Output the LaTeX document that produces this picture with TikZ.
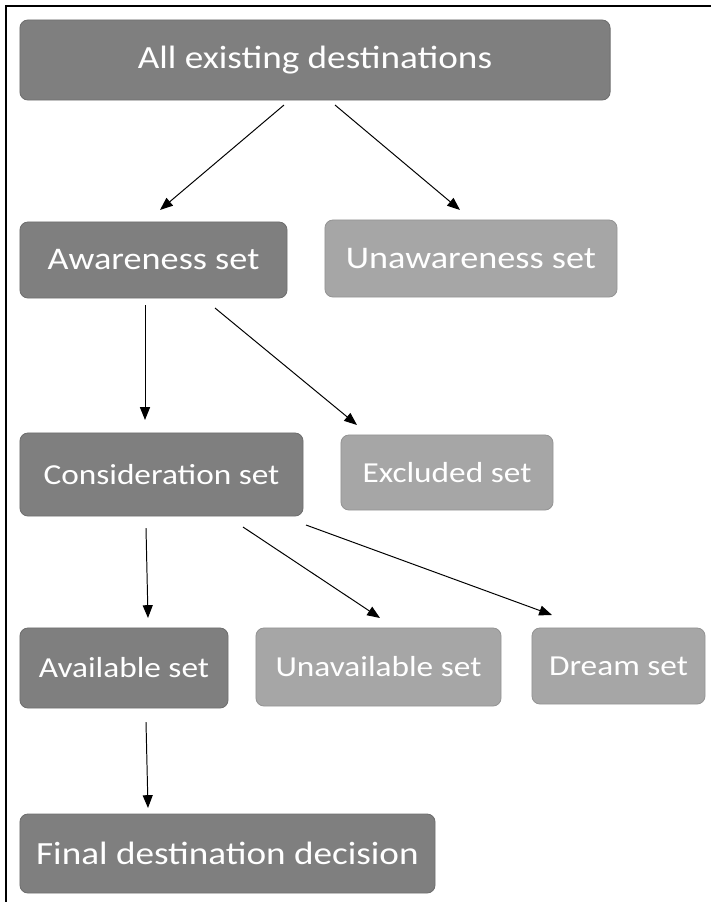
\documentclass[tikz,border=0pt]{standalone}
\usepackage{fontspec}
\setmainfont{Carlito}[FakeStretch=1.15]
\usepackage{tikz}
\usetikzlibrary{arrows.meta}
\definecolor{darkset}{RGB}{127,127,127}
\definecolor{lightset}{RGB}{166,166,166}
\begin{document}
\begin{tikzpicture}[
  x=0.025cm,y=-0.025cm,
  setbox/.style={rounded corners=0.2cm,text=white,inner sep=0pt,outer sep=0pt,
    line width=0.6pt,align=center},
  inbox/.style={setbox,draw=black!57,fill=darkset},
  outbox/.style={setbox,draw=black!42,fill=lightset},
  big/.style={font=\fontsize{23pt}{26pt}\selectfont},
  mid/.style={font=\fontsize{22.4pt}{25pt}\selectfont},
  small/.style={font=\fontsize{20.6pt}{23pt}\selectfont},
  arrow/.style={-{Triangle[length=3.2mm,width=2.5mm]},line width=0.7pt,black}
]
\useasboundingbox (0,0) rectangle (711,902);
% frame
\draw[line width=1.1pt] (6,902) -- (6,6) -- (711,6);
% first level
\node[inbox,big,minimum width=14.75cm,minimum height=2cm] (all) at (315,60) {All existing destinations};
% second level
\node[inbox,mid,minimum width=6.675cm,minimum height=1.9cm] (aware) at (153.5,260) {Awareness set};
\node[outbox,mid,minimum width=7.3cm,minimum height=1.925cm] (unaware) at (471,258.5) {Unawareness set};
% third level
\node[inbox,small,minimum width=7.075cm,minimum height=2.075cm] (consid) at (161.5,474.5) {Consideration set};
\node[outbox,small,minimum width=5.3cm,minimum height=1.875cm] (excl) at (447,472.5) {Excluded set};
% fourth level
\node[inbox,small,minimum width=5.2cm,minimum height=2cm] (avail) at (124,668) {Available set};
\node[outbox,small,minimum width=6.125cm,minimum height=1.95cm] (unavail) at (378.5,667) {Unavailable set};
\node[outbox,small,minimum width=4.325cm,minimum height=1.9cm] (dream) at (618.5,666) {Dream set};
% decision
\node[inbox,big,minimum width=10.375cm,minimum height=1.975cm] (final) at (227.5,853.5) {Final destination decision};

\draw[arrow] ([shift={(-31,5)}]all.south) -- ([shift={(6.5,-12)}]aware.north);
\draw[arrow] ([shift={(20,5)}]all.south) -- ([shift={(-11,-10)}]unaware.north);
\draw[arrow] ([shift={(-8.5,7)}]aware.south) -- ([shift={(-16.5,-13)}]consid.north);
\draw[arrow] ([shift={(61.5,10)}]aware.south) -- ([shift={(-90,-10)}]excl.north);
\draw[arrow] ([shift={(-15.5,12)}]consid.south) -- ([shift={(24,-10)}]avail.north);
\draw[arrow] ([shift={(81.5,11)}]consid.south) -- ([shift={(1.5,-10)}]unavail.north);
\draw[arrow] ([shift={(144.5,9)}]consid.south) -- ([shift={(-66.5,-13)}]dream.north);
\draw[arrow] ([shift={(22,14)}]avail.south) -- ([shift={(-79.5,-6)}]final.north);
\end{tikzpicture}
\end{document}
